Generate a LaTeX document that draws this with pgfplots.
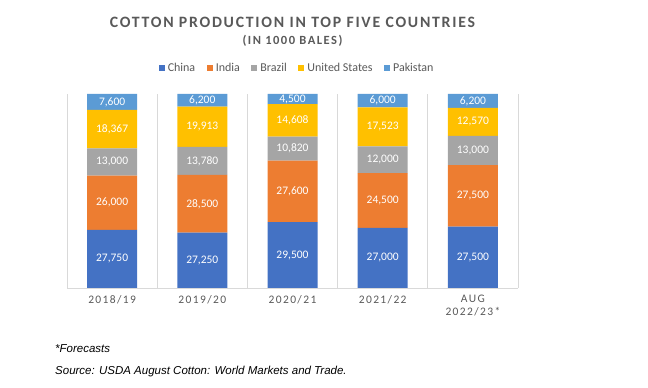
\documentclass[border=0pt]{standalone}
\usepackage{pgfplots}
\pgfplotsset{compat=1.18}
\usepackage{pgfplotstable}
\usepackage{fontspec}
\setmainfont{Carlito}
\newfontfamily\titlefont[LetterSpace=11]{Carlito}
\newfontfamily\subfont[LetterSpace=12]{Carlito}
\newfontfamily\tickfont[LetterSpace=12]{Carlito}
\newfontfamily\notefont{Liberation Sans}
\definecolor{cChina}{HTML}{4472C4}
\definecolor{cIndia}{HTML}{ED7D31}
\definecolor{cBrazil}{HTML}{A5A5A5}
\definecolor{cUS}{HTML}{FFC000}
\definecolor{cPak}{HTML}{5B9BD5}
\definecolor{txtgray}{HTML}{595959}
\definecolor{gridgray}{HTML}{D9D9D9}

\pgfplotstableread{
x China India Brazil US Pakistan
0 27750 26000 13000 18367 7600
1 27250 28500 13780 19913 6200
2 29500 27600 10820 14608 4500
3 27000 24500 12000 17523 6000
4 27500 27500 13000 12570 6200
}\data

\newcommand{\tot}{(\thisrow{China}+\thisrow{India}+\thisrow{Brazil}+\thisrow{US}+\thisrow{Pakistan})}

\begin{document}
\begin{tikzpicture}[x=1pt,y=1pt]
\useasboundingbox (0,0) rectangle (648,388);
\pgfplotsset{common/.style={
  scale only axis, width=451pt, height=194pt, at={(67pt,100pt)}, anchor=south west,
  xmin=-0.5, xmax=4.5, ymin=0, ymax=100,
}}
\begin{axis}[common,
  ybar stacked, bar width=50pt,
  axis y line=none, axis x line*=bottom,
  x axis line style={gridgray, line width=0.8pt},
  xtick={0,1,2,3,4},
  xticklabels={2018/19,2019/20,2020/21,2021/22,{AUG\\2022/23*}},
  minor xtick={-0.5,0.5,1.5,2.5,3.5,4.5},
  xminorgrids=true,
  minor grid style={gridgray, line width=0.8pt},
  major tick length=0pt, minor tick length=0pt,
  xticklabel style={font=\tickfont\fontsize{11.5}{12.5}\selectfont, text=txtgray, align=center, anchor=north, yshift=-7pt, inner sep=0pt},
  legend columns=5,
  legend image code/.code={\fill[#1] (0pt,-3pt) rectangle (6pt,3pt);},
  legend style={draw=none, fill=none, font=\fontsize{12}{13}\selectfont, text=txtgray,
    at={(0.508,1.134)}, anchor=center,
    nodes={inner sep=0pt},
    /tikz/every even column/.append style={column sep=11.5pt},
    /tikz/every odd column/.append style={column sep=3pt}},
]
\addplot[fill=cChina, draw=none] table[x=x, y expr=\thisrow{China}/\tot*100]{\data};
\addplot[fill=cIndia, draw=none] table[x=x, y expr=\thisrow{India}/\tot*100]{\data};
\addplot[fill=cBrazil, draw=none] table[x=x, y expr=\thisrow{Brazil}/\tot*100]{\data};
\addplot[fill=cUS, draw=none] table[x=x, y expr=\thisrow{US}/\tot*100]{\data};
\addplot[fill=cPak, draw=none] table[x=x, y expr=\thisrow{Pakistan}/\tot*100]{\data};
\legend{China,India,Brazil,United States,Pakistan}
\end{axis}
\begin{axis}[common, hide axis,
  point meta=explicit,
  nodes near coords,
  nodes near coords style={font=\fontsize{11.5}{13}\selectfont, text=white, anchor=center},
  /pgf/number format/.cd, fixed, precision=0, 1000 sep={,}, assume math mode=true]
\addplot[draw=none, mark=none, nodes near coords] table[x=x, y expr=\thisrow{China}/2/\tot*100, meta=China]{\data};
\addplot[draw=none, mark=none, nodes near coords] table[x=x, y expr=(\thisrow{China}+\thisrow{India}/2)/\tot*100, meta=India]{\data};
\addplot[draw=none, mark=none, nodes near coords] table[x=x, y expr=(\thisrow{China}+\thisrow{India}+\thisrow{Brazil}/2)/\tot*100, meta=Brazil]{\data};
\addplot[draw=none, mark=none, nodes near coords] table[x=x, y expr=(\thisrow{China}+\thisrow{India}+\thisrow{Brazil}+\thisrow{US}/2)/\tot*100, meta=US]{\data};
\addplot[draw=none, mark=none, nodes near coords] table[x=x, y expr=(\thisrow{China}+\thisrow{India}+\thisrow{Brazil}+\thisrow{US}+\thisrow{Pakistan}/2)/\tot*100, meta=Pakistan]{\data};
\end{axis}
\node[font=\titlefont\bfseries\fontsize{15.8}{18}\selectfont, text=txtgray, anchor=base] at (292.5,360) {COTTON PRODUCTION IN TOP FIVE COUNTRIES};
\node[font=\subfont\bfseries\fontsize{12.5}{14}\selectfont, text=txtgray, anchor=base] at (292.5,343) {(IN 1000 BALES)};
\node[font=\notefont\itshape\fontsize{11.5}{13}\selectfont, anchor=base west, inner sep=0pt] at (55,35) {*Forecasts};
\node[font=\notefont\itshape\fontsize{11.5}{13}\selectfont, anchor=base west, inner sep=0pt] at (55,13) {Source: USDA August Cotton: World Markets and Trade.};
\end{tikzpicture}
\end{document}
